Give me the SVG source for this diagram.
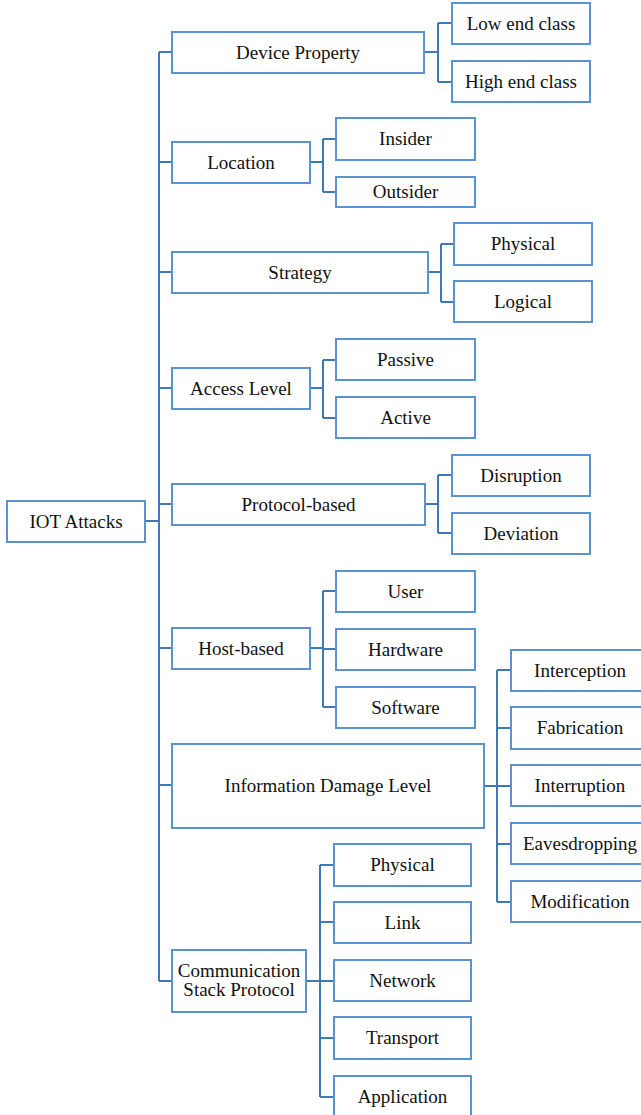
<svg xmlns="http://www.w3.org/2000/svg" width="641" height="1115" viewBox="0 0 641 1115">
<style>
.box{fill:#fff;stroke:#5b92d0;stroke-width:2}
.ln{fill:none;stroke:#3f78b9;stroke-width:2}
text{font-family:"Liberation Serif","Times New Roman",serif;font-size:19px;fill:#111;text-anchor:middle}
</style>
<rect width="641" height="1115" fill="#fff"/>
<g id="connectors" class="ln">
<path d="M145 521H159M159 52V981"/>
<path d="M159 52H172M159 162H172M159 272H172M159 388H172M159 504H172M159 648H172M159 785H172M159 981H172"/>
<path d="M424 52H438M438 23V82M438 23H452M438 82H452"/>
<path d="M310 162H323M323 139V192M323 139H336M323 192H336"/>
<path d="M428 272H441M441 244V302M441 244H454M441 302H454"/>
<path d="M310 388H323M323 360V418M323 360H336M323 418H336"/>
<path d="M425 504H438M438 475V533M438 475H452M438 533H452"/>
<path d="M310 648H323M323 591V707M323 591H336M323 649H336M323 707H336"/>
<path d="M484 786H497M497 670V902M497 670H511M497 728H511M497 786H511M497 844H511M497 902H511"/>
<path d="M306 981H320M320 865V1097M320 865H334M320 922H334M320 981H334M320 1038H334M320 1097H334"/>
</g>
<g id="n-iot"><rect class="box" x="7" y="501" width="138" height="41"/><text x="76" y="528">IOT Attacks</text></g>
<g id="n-device"><rect class="box" x="172" y="32" width="252" height="41"/><text x="298" y="59">Device Property</text></g>
<g id="n-low"><rect class="box" x="452" y="3" width="138" height="41"/><text x="521" y="30">Low end class</text></g>
<g id="n-high"><rect class="box" x="452" y="61" width="138" height="41"/><text x="521" y="88">High end class</text></g>
<g id="n-location"><rect class="box" x="172" y="142" width="138" height="41"/><text x="241" y="169">Location</text></g>
<g id="n-insider"><rect class="box" x="336" y="118" width="139" height="42"/><text x="405.5" y="145">Insider</text></g>
<g id="n-outsider"><rect class="box" x="336" y="177" width="139" height="30"/><text x="405.5" y="198">Outsider</text></g>
<g id="n-strategy"><rect class="box" x="172" y="252" width="256" height="41"/><text x="300" y="279">Strategy</text></g>
<g id="n-physical1"><rect class="box" x="454" y="223" width="138" height="42"/><text x="523" y="250">Physical</text></g>
<g id="n-logical"><rect class="box" x="454" y="281" width="138" height="41"/><text x="523" y="308">Logical</text></g>
<g id="n-access"><rect class="box" x="172" y="368" width="138" height="41"/><text x="241" y="395">Access Level</text></g>
<g id="n-passive"><rect class="box" x="336" y="339" width="139" height="41"/><text x="405.5" y="366">Passive</text></g>
<g id="n-active"><rect class="box" x="336" y="397" width="139" height="41"/><text x="405.5" y="424">Active</text></g>
<g id="n-protocol"><rect class="box" x="172" y="484" width="253" height="41"/><text x="298.5" y="511">Protocol-based</text></g>
<g id="n-disruption"><rect class="box" x="452" y="455" width="138" height="41"/><text x="521" y="482">Disruption</text></g>
<g id="n-deviation"><rect class="box" x="452" y="513" width="138" height="41"/><text x="521" y="540">Deviation</text></g>
<g id="n-host"><rect class="box" x="172" y="628" width="138" height="41"/><text x="241" y="655">Host-based</text></g>
<g id="n-user"><rect class="box" x="336" y="571" width="139" height="41"/><text x="405.5" y="598">User</text></g>
<g id="n-hardware"><rect class="box" x="336" y="629" width="139" height="41"/><text x="405.5" y="656">Hardware</text></g>
<g id="n-software"><rect class="box" x="336" y="687" width="139" height="41"/><text x="405.5" y="714">Software</text></g>
<g id="n-idl"><rect class="box" x="172" y="744" width="312" height="84"/><text x="328" y="792">Information Damage Level</text></g>
<g id="n-interception"><rect class="box" x="511" y="650" width="138" height="41"/><text x="580" y="677">Interception</text></g>
<g id="n-fabrication"><rect class="box" x="511" y="707" width="138" height="42"/><text x="580" y="734">Fabrication</text></g>
<g id="n-interruption"><rect class="box" x="511" y="765" width="138" height="41"/><text x="580" y="792">Interruption</text></g>
<g id="n-eavesdropping"><rect class="box" x="511" y="823" width="138" height="41"/><text x="580" y="850">Eavesdropping</text></g>
<g id="n-modification"><rect class="box" x="511" y="881" width="138" height="41"/><text x="580" y="908">Modification</text></g>
<g id="n-csp"><rect class="box" x="172" y="950" width="134" height="62"/><text x="239" y="977">Communication</text><text x="239" y="996">Stack Protocol</text></g>
<g id="n-physical2"><rect class="box" x="334" y="844" width="137" height="42"/><text x="402.5" y="871">Physical</text></g>
<g id="n-link"><rect class="box" x="334" y="902" width="137" height="41"/><text x="402.5" y="929">Link</text></g>
<g id="n-network"><rect class="box" x="334" y="960" width="137" height="41"/><text x="402.5" y="987">Network</text></g>
<g id="n-transport"><rect class="box" x="334" y="1017" width="137" height="42"/><text x="402.5" y="1044">Transport</text></g>
<g id="n-application"><rect class="box" x="334" y="1076" width="137" height="42"/><text x="402.5" y="1103">Application</text></g>
</svg>
